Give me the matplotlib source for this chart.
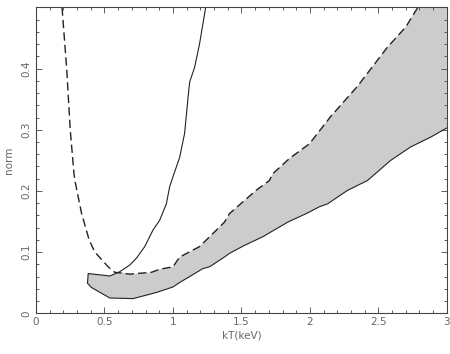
import matplotlib
matplotlib.use('Agg')
import matplotlib.pyplot as plt
from matplotlib.ticker import MultipleLocator

# Solid contour (from top of the steep branch, round the left cap, along the bottom)
solid_kt = [1.238, 1.194, 1.158, 1.122, 1.109, 1.085, 1.049, 1.0, 0.976, 0.952,
            0.903, 0.854, 0.794, 0.733, 0.685, 0.612, 0.539, 0.381, 0.376, 0.406,
            0.539, 0.709, 0.879, 1.0, 1.061, 1.122, 1.218, 1.267, 1.376, 1.413,
            1.522, 1.655, 1.838, 1.983, 2.068, 2.13, 2.275, 2.42, 2.59, 2.736,
            2.882, 3.0]
solid_norm = [0.499, 0.44, 0.402, 0.378, 0.35, 0.294, 0.255, 0.223, 0.207, 0.179,
              0.152, 0.136, 0.109, 0.09, 0.079, 0.068, 0.061, 0.065, 0.049, 0.042,
              0.025, 0.024, 0.034, 0.043, 0.052, 0.06, 0.073, 0.076, 0.092, 0.098,
              0.111, 0.125, 0.149, 0.164, 0.174, 0.179, 0.201, 0.217, 0.25, 0.272,
              0.288, 0.303]

# Dashed contour
dash_kt = [0.19, 0.224, 0.25, 0.277, 0.284, 0.333, 0.388, 0.417, 0.43, 0.527,
           0.575, 0.685, 0.843, 0.903, 1.0, 1.049, 1.194, 1.267, 1.376, 1.413,
           1.607, 1.704, 1.728, 1.85, 1.996, 2.153, 2.347, 2.566, 2.7, 2.785]
dash_norm = [0.5, 0.4, 0.3, 0.229, 0.217, 0.163, 0.12, 0.106, 0.1, 0.076,
             0.067, 0.064, 0.067, 0.072, 0.076, 0.092, 0.109, 0.125, 0.149, 0.163,
             0.201, 0.217, 0.228, 0.253, 0.277, 0.322, 0.371, 0.435, 0.468, 0.499]

# Allowed (shaded) region: left cap + lower solid edge, then the dashed upper edge back
lower_kt = solid_kt[15:]
lower_norm = solid_norm[15:]
upper_kt = dash_kt[11:]
upper_norm = dash_norm[11:]
poly_kt = lower_kt + [3.0] + upper_kt[::-1]
poly_norm = lower_norm + [0.5] + upper_norm[::-1]

fig = plt.figure(figsize=(4.5, 3.54), dpi=100)
ax = fig.add_axes([0.08, 0.115, 0.913, 0.864])

ax.fill(poly_kt, poly_norm, color='#cccccc', lw=0)
ax.plot(solid_kt, solid_norm, color='#222222', lw=0.8)
ax.plot(dash_kt, dash_norm, color='#222222', lw=1.0, dashes=(6, 3))

ax.set_xlim(0, 3)
ax.set_ylim(0, 0.5)
ax.xaxis.set_minor_locator(MultipleLocator(0.1))
ax.yaxis.set_minor_locator(MultipleLocator(0.02))
ax.set_xticks([0, 0.5, 1, 1.5, 2, 2.5, 3])
ax.set_xticklabels(['0', '0.5', '1', '1.5', '2', '2.5', '3'])
ax.set_yticks([0, 0.1, 0.2, 0.3, 0.4])
ax.set_yticklabels(['0', '0.1', '0.2', '0.3', '0.4'], rotation=90, va='center')

ax.tick_params(which='both', direction='in', top=True, right=True,
               colors='#444444', labelcolor='#666666', width=0.6)
ax.tick_params(which='major', length=4, labelsize=7.5, pad=3)
ax.tick_params(which='minor', length=2)
for s in ax.spines.values():
    s.set_color('#444444')
    s.set_linewidth(0.8)

ax.set_xlabel('kT(keV)', fontsize=7.5, color='#666666', labelpad=2)
ax.set_ylabel('norm', fontsize=7.5, color='#666666', labelpad=6)

plt.savefig('out.png', dpi=100)
plt.close()
